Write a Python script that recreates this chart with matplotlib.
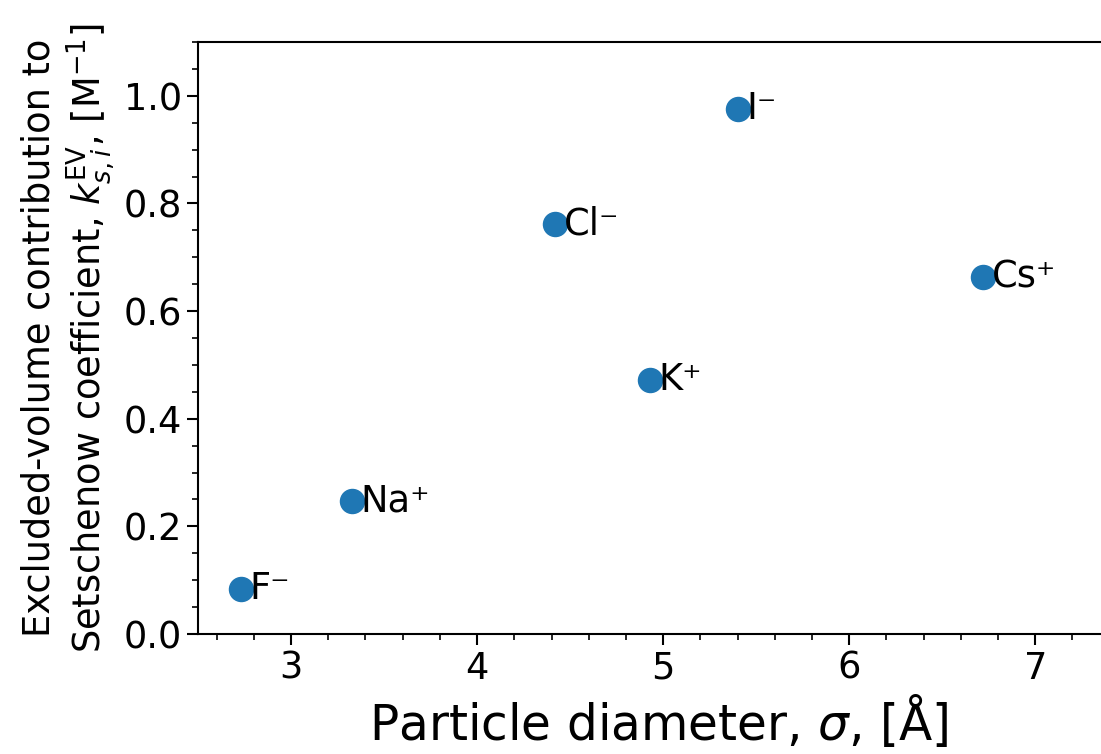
import matplotlib
matplotlib.use('Agg')
import matplotlib.pyplot as plt
from matplotlib.ticker import MultipleLocator

ions = ['F⁻', 'Na⁺', 'Cl⁻', 'K⁺', 'I⁻', 'Cs⁺']
diameter = [2.73, 3.33, 4.42, 4.93, 5.40, 6.72]
k_ev = [0.084, 0.247, 0.762, 0.472, 0.976, 0.664]


def main(fname='out.png'):
    fig = plt.figure(figsize=(11.01, 7.54), dpi=100)
    # axes run past the right edge of the picture, as in the original crop
    ax = fig.add_axes([198 / 1101, 120 / 754, 921 / 1101, 592 / 754])

    ax.scatter(diameter, k_ev, s=300, color='#1f77b4', zorder=3)
    for name, x, y in zip(ions, diameter, k_ev):
        ax.annotate(name, (x, y), xytext=(6, 0), textcoords='offset points',
                    va='center', ha='left', fontsize=26.5)

    ax.set_xlim(2.5, 7.45)
    ax.set_ylim(0, 1.1)
    ax.xaxis.set_major_locator(MultipleLocator(1))
    ax.xaxis.set_minor_locator(MultipleLocator(0.2))
    ax.yaxis.set_major_locator(MultipleLocator(0.2))
    ax.yaxis.set_minor_locator(MultipleLocator(0.05))
    ax.tick_params(which='major', labelsize=26.5, length=8, width=1.5)
    ax.tick_params(which='minor', length=4, width=1.2)
    for sp in ax.spines.values():
        sp.set_linewidth(1.5)

    ax.set_xlabel(r'Particle diameter, $\sigma$, [Å]', fontsize=35)
    ax.set_ylabel('Excluded-volume contribution to\n'
                  r'Setschenow coefficient, $k_{s,i}^{\mathrm{EV}}$, [M$^{-1}$]',
                  fontsize=26.5)

    fig.savefig(fname, dpi=100)


if __name__ == '__main__':
    main()
